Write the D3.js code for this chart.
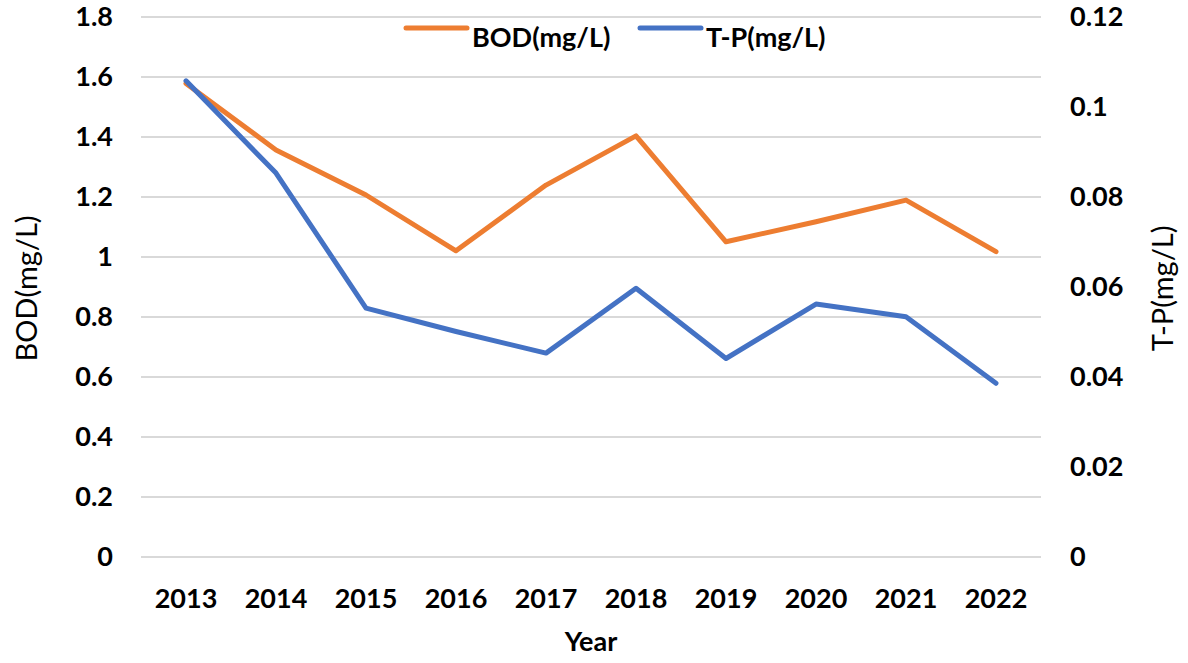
<!DOCTYPE html>
<html>
<head>
<meta charset="utf-8">
<script src="https://cdn.jsdelivr.net/npm/d3@7"></script>
<style>
  html, body { margin: 0; padding: 0; background: #fff; }
  svg { display: block; }
</style>
</head>
<body>
<svg id="chart" width="1188" height="663"></svg>
<script>
const years = ["2013","2014","2015","2016","2017","2018","2019","2020","2021","2022"];
const bod = [1.577, 1.355, 1.205, 1.019, 1.238, 1.402, 1.049, 1.116, 1.188, 1.016];
const tp = [0.1057, 0.0852, 0.0552, 0.0500, 0.0452, 0.0596, 0.0440, 0.0561, 0.0533, 0.0385];
const leftTicks = [0, 0.2, 0.4, 0.6, 0.8, 1.0, 1.2, 1.4, 1.6, 1.8];
const leftTickLabels = ["0","0.2","0.4","0.6","0.8","1","1.2","1.4","1.6","1.8"];
const rightTicks = [0, 0.02, 0.04, 0.06, 0.08, 0.10, 0.12];
const rightTickLabels = ["0","0.02","0.04","0.06","0.08","0.1","0.12"];
const seriesNames = ["BOD(mg/L)", "T-P(mg/L)"];
const seriesColors = ["#ED7D31", "#4472C4"];

const svg = d3.select("#chart");
const L = 141, R = 1041, T = 16.5, B = 556.5;
const font = "Lato, 'Open Sans', sans-serif";

const x = d3.scaleBand().domain(years).range([L, R]);
const yL = d3.scaleLinear().domain([0, 1.8]).range([B, T]);
const yR = d3.scaleLinear().domain([0, 0.12]).range([B, T]);
const cx = d => x(d) + x.bandwidth() / 2;

// gridlines
svg.append("g")
  .attr("transform", `translate(${L},0)`)
  .call(d3.axisLeft(yL).tickValues(leftTicks).tickSize(-(R - L)).tickFormat(""))
  .call(g => g.select(".domain").remove())
  .call(g => g.selectAll("line").attr("stroke", "#d9d9d9").attr("stroke-width", 2));

// left axis labels
svg.append("g")
  .attr("transform", `translate(${L},0)`)
  .call(d3.axisLeft(yL).tickValues(leftTicks).tickSize(0).tickPadding(28)
        .tickFormat((d, i) => leftTickLabels[i]))
  .call(g => g.select(".domain").remove())
  .call(g => g.selectAll("text").attr("font-family", font).attr("font-weight", "bold")
        .attr("font-size", 27).attr("fill", "#000"));

// right axis labels
svg.append("g")
  .attr("transform", `translate(${R},0)`)
  .call(d3.axisRight(yR).tickValues(rightTicks).tickSize(0).tickPadding(29)
        .tickFormat((d, i) => rightTickLabels[i]))
  .call(g => g.select(".domain").remove())
  .call(g => g.selectAll("text").attr("font-family", font).attr("font-weight", "bold")
        .attr("font-size", 27).attr("fill", "#000"));

// bottom axis labels
svg.append("g")
  .attr("transform", `translate(0,${B})`)
  .call(d3.axisBottom(x).tickSize(0).tickPadding(0))
  .call(g => g.select(".domain").remove())
  .call(g => g.selectAll("text").attr("font-family", font).attr("font-weight", "bold")
        .attr("font-size", 27).attr("fill", "#000").attr("y", 51.5).attr("dy", 0));

// axis titles
svg.append("text").attr("x", (L + R) / 2).attr("y", 651).attr("text-anchor", "middle")
  .attr("font-family", font).attr("font-weight", "bold").attr("font-size", 27).text("Year");
svg.append("text").attr("transform", `translate(37,${(T + B) / 2 + 2}) rotate(-90)`)
  .attr("text-anchor", "middle").attr("font-family", font).attr("font-size", 29).text(seriesNames[0]);
svg.append("text").attr("transform", `translate(1173,${(T + B) / 2 + 2}) rotate(-90)`)
  .attr("text-anchor", "middle").attr("font-family", font).attr("font-size", 29).text(seriesNames[1]);

// lines
const lineL = d3.line().x((d, i) => cx(years[i])).y(d => yL(d));
const lineR = d3.line().x((d, i) => cx(years[i])).y(d => yR(d));
svg.append("path").datum(bod).attr("d", lineL).attr("fill", "none")
  .attr("stroke", seriesColors[0]).attr("stroke-width", 5).attr("stroke-linejoin", "round").attr("stroke-linecap", "round");
svg.append("path").datum(tp).attr("d", lineR).attr("fill", "none")
  .attr("stroke", seriesColors[1]).attr("stroke-width", 5).attr("stroke-linejoin", "round").attr("stroke-linecap", "round");

// legend
const legendX = [406, 640];
seriesNames.forEach((name, i) => {
  const g = svg.append("g").attr("transform", `translate(${legendX[i]},0)`);
  g.append("line").attr("x1", 0).attr("x2", 61).attr("y1", 28).attr("y2", 28)
    .attr("stroke", seriesColors[i]).attr("stroke-width", 5).attr("stroke-linecap", "round");
  g.append("text").attr("x", 66).attr("y", 47).attr("font-family", font).attr("font-weight", "bold")
    .attr("font-size", 27).attr("fill", "#000").text(name);
});
</script>
</body>
</html>
